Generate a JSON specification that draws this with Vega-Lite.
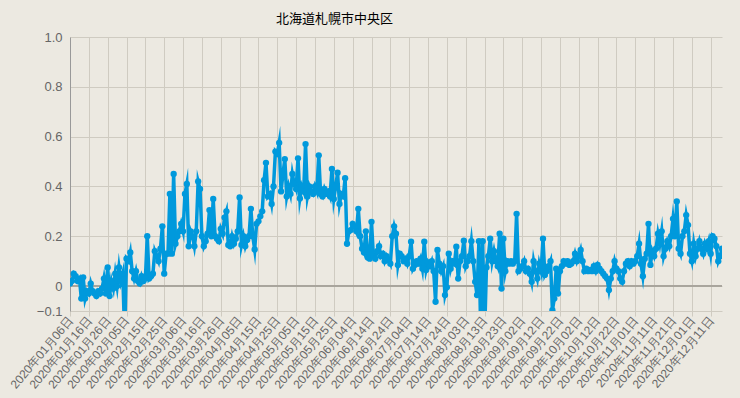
{
  "$schema": "https://vega.github.io/schema/vega-lite/v6.json",
  "width": 652,
  "height": 274,
  "autosize": {"type": "none"},
  "padding": {"left": 70, "top": 37, "right": 18, "bottom": 87},
  "background": "#ece9e1",
  "title": {"text": "北海道札幌市中央区", "anchor": "start", "dx": 268, "offset": 5, "fontSize": 13, "fontWeight": "normal", "color": "#000000", "font": "Noto Sans CJK JP"},
  "config": {
    "view": {"stroke": null},
    "axis": {"labelFont": "Liberation Sans", "labelColor": "#666666", "labelFontSize": 12, "gridColor": "#cfcbc1", "gridOpacity": 1, "domainColor": "#999999", "tickColor": "#cfcbc1"}
  },
  "data": {"values": [
    {"date":"2020-01-06","v":0.01},{"date":"2020-01-07","v":0.02},{"date":"2020-01-08","v":0.05},{"date":"2020-01-09","v":0.04},{"date":"2020-01-10","v":0.02},
    {"date":"2020-01-11","v":0.03},{"date":"2020-01-12","v":-0.05},{"date":"2020-01-13","v":0.035},{"date":"2020-01-14","v":-0.05},{"date":"2020-01-15","v":-0.02},
    {"date":"2020-01-16","v":-0.03},{"date":"2020-01-17","v":0.01},{"date":"2020-01-18","v":-0.02},{"date":"2020-01-19","v":-0.03},{"date":"2020-01-20","v":-0.04},
    {"date":"2020-01-21","v":-0.02},{"date":"2020-01-22","v":-0.03},{"date":"2020-01-23","v":-0.01},{"date":"2020-01-24","v":0.03},{"date":"2020-01-25","v":-0.03},
    {"date":"2020-01-26","v":0.075},{"date":"2020-01-27","v":-0.04},{"date":"2020-01-28","v":0.02},{"date":"2020-01-29","v":-0.01},{"date":"2020-01-30","v":0.05},
    {"date":"2020-01-31","v":0.0},
    {"date":"2020-02-01","v":0.075},{"date":"2020-02-02","v":0.02},{"date":"2020-02-03","v":0.05},{"date":"2020-02-04","v":-0.2},{"date":"2020-02-05","v":0.11},
    {"date":"2020-02-06","v":0.1},{"date":"2020-02-07","v":0.135},{"date":"2020-02-08","v":0.06},{"date":"2020-02-09","v":0.03},{"date":"2020-02-10","v":0.06},
    {"date":"2020-02-11","v":0.02},{"date":"2020-02-12","v":0.01},{"date":"2020-02-13","v":0.04},{"date":"2020-02-14","v":0.02},{"date":"2020-02-15","v":0.03},
    {"date":"2020-02-16","v":0.2},{"date":"2020-02-17","v":0.03},{"date":"2020-02-18","v":0.04},{"date":"2020-02-19","v":0.05},{"date":"2020-02-20","v":0.14},
    {"date":"2020-02-21","v":0.12},{"date":"2020-02-22","v":0.1},{"date":"2020-02-23","v":0.15},{"date":"2020-02-24","v":0.24},{"date":"2020-02-25","v":0.05},
    {"date":"2020-02-26","v":0.13},{"date":"2020-02-27","v":0.13},{"date":"2020-02-28","v":0.37},{"date":"2020-02-29","v":0.13},
    {"date":"2020-03-01","v":0.45},{"date":"2020-03-02","v":0.17},{"date":"2020-03-03","v":0.2},{"date":"2020-03-04","v":0.22},{"date":"2020-03-05","v":0.25},
    {"date":"2020-03-06","v":0.22},{"date":"2020-03-07","v":0.37},{"date":"2020-03-08","v":0.41},{"date":"2020-03-09","v":0.16},{"date":"2020-03-10","v":0.22},
    {"date":"2020-03-11","v":0.2},{"date":"2020-03-12","v":0.16},{"date":"2020-03-13","v":0.22},{"date":"2020-03-14","v":0.42},{"date":"2020-03-15","v":0.39},
    {"date":"2020-03-16","v":0.2},{"date":"2020-03-17","v":0.16},{"date":"2020-03-18","v":0.18},{"date":"2020-03-19","v":0.21},{"date":"2020-03-20","v":0.305},
    {"date":"2020-03-21","v":0.2},{"date":"2020-03-22","v":0.35},{"date":"2020-03-23","v":0.2},{"date":"2020-03-24","v":0.19},{"date":"2020-03-25","v":0.18},
    {"date":"2020-03-26","v":0.23},{"date":"2020-03-27","v":0.21},{"date":"2020-03-28","v":0.275},{"date":"2020-03-29","v":0.3},{"date":"2020-03-30","v":0.165},
    {"date":"2020-03-31","v":0.16},
    {"date":"2020-04-01","v":0.2},{"date":"2020-04-02","v":0.17},{"date":"2020-04-03","v":0.19},{"date":"2020-04-04","v":0.22},{"date":"2020-04-05","v":0.356},
    {"date":"2020-04-06","v":0.165},{"date":"2020-04-07","v":0.2},{"date":"2020-04-08","v":0.16},{"date":"2020-04-09","v":0.185},{"date":"2020-04-10","v":0.2},
    {"date":"2020-04-11","v":0.31},{"date":"2020-04-12","v":0.2},{"date":"2020-04-13","v":0.147},{"date":"2020-04-14","v":0.25},{"date":"2020-04-15","v":0.26},
    {"date":"2020-04-16","v":0.28},{"date":"2020-04-17","v":0.3},{"date":"2020-04-18","v":0.425},{"date":"2020-04-19","v":0.495},{"date":"2020-04-20","v":0.36},
    {"date":"2020-04-21","v":0.37},{"date":"2020-04-22","v":0.33},{"date":"2020-04-23","v":0.4},{"date":"2020-04-24","v":0.54},{"date":"2020-04-25","v":0.53},
    {"date":"2020-04-26","v":0.575},{"date":"2020-04-27","v":0.38},{"date":"2020-04-28","v":0.45},{"date":"2020-04-29","v":0.51},{"date":"2020-04-30","v":0.36},
    {"date":"2020-05-01","v":0.4},{"date":"2020-05-02","v":0.37},{"date":"2020-05-03","v":0.45},{"date":"2020-05-04","v":0.41},{"date":"2020-05-05","v":0.39},
    {"date":"2020-05-06","v":0.513},{"date":"2020-05-07","v":0.352},{"date":"2020-05-08","v":0.4},{"date":"2020-05-09","v":0.38},{"date":"2020-05-10","v":0.57},
    {"date":"2020-05-11","v":0.36},{"date":"2020-05-12","v":0.4},{"date":"2020-05-13","v":0.38},{"date":"2020-05-14","v":0.37},{"date":"2020-05-15","v":0.4},
    {"date":"2020-05-16","v":0.38},{"date":"2020-05-17","v":0.525},{"date":"2020-05-18","v":0.37},{"date":"2020-05-19","v":0.36},{"date":"2020-05-20","v":0.39},
    {"date":"2020-05-21","v":0.37},{"date":"2020-05-22","v":0.38},{"date":"2020-05-23","v":0.36},{"date":"2020-05-24","v":0.47},{"date":"2020-05-25","v":0.35},
    {"date":"2020-05-26","v":0.4},{"date":"2020-05-27","v":0.455},{"date":"2020-05-28","v":0.33},{"date":"2020-05-29","v":0.37},{"date":"2020-05-30","v":0.36},
    {"date":"2020-05-31","v":0.433},
    {"date":"2020-06-01","v":0.17},{"date":"2020-06-02","v":0.22},{"date":"2020-06-03","v":0.225},{"date":"2020-06-04","v":0.25},{"date":"2020-06-05","v":0.24},
    {"date":"2020-06-06","v":0.22},{"date":"2020-06-07","v":0.31},{"date":"2020-06-08","v":0.2},{"date":"2020-06-09","v":0.15},{"date":"2020-06-10","v":0.135},
    {"date":"2020-06-11","v":0.22},{"date":"2020-06-12","v":0.115},{"date":"2020-06-13","v":0.11},{"date":"2020-06-14","v":0.258},{"date":"2020-06-15","v":0.12},
    {"date":"2020-06-16","v":0.11},{"date":"2020-06-17","v":0.14},{"date":"2020-06-18","v":0.16},{"date":"2020-06-19","v":0.12},{"date":"2020-06-20","v":0.13},
    {"date":"2020-06-21","v":0.1},{"date":"2020-06-22","v":0.12},{"date":"2020-06-23","v":0.105},{"date":"2020-06-24","v":0.09},{"date":"2020-06-25","v":0.2},
    {"date":"2020-06-26","v":0.24},{"date":"2020-06-27","v":0.21},{"date":"2020-06-28","v":0.085},{"date":"2020-06-29","v":0.13},{"date":"2020-06-30","v":0.12},
    {"date":"2020-07-01","v":0.1},{"date":"2020-07-02","v":0.11},{"date":"2020-07-03","v":0.09},{"date":"2020-07-04","v":0.12},{"date":"2020-07-05","v":0.178},
    {"date":"2020-07-06","v":0.07},{"date":"2020-07-07","v":0.085},{"date":"2020-07-08","v":0.1},{"date":"2020-07-09","v":0.09},{"date":"2020-07-10","v":0.11},
    {"date":"2020-07-11","v":0.07},{"date":"2020-07-12","v":0.178},{"date":"2020-07-13","v":0.065},{"date":"2020-07-14","v":0.095},{"date":"2020-07-15","v":0.08},
    {"date":"2020-07-16","v":0.1},{"date":"2020-07-17","v":0.06},{"date":"2020-07-18","v":-0.063},{"date":"2020-07-19","v":0.145},{"date":"2020-07-20","v":0.09},
    {"date":"2020-07-21","v":0.06},{"date":"2020-07-22","v":0.08},{"date":"2020-07-23","v":-0.036},{"date":"2020-07-24","v":-0.005},{"date":"2020-07-25","v":0.13},
    {"date":"2020-07-26","v":0.07},{"date":"2020-07-27","v":0.1},{"date":"2020-07-28","v":0.09},{"date":"2020-07-29","v":0.158},{"date":"2020-07-30","v":0.03},
    {"date":"2020-07-31","v":0.1},
    {"date":"2020-08-01","v":0.12},{"date":"2020-08-02","v":0.182},{"date":"2020-08-03","v":0.08},{"date":"2020-08-04","v":0.1},{"date":"2020-08-05","v":0.12},
    {"date":"2020-08-06","v":0.18},{"date":"2020-08-07","v":0.1},{"date":"2020-08-08","v":0.017},{"date":"2020-08-09","v":-0.036},{"date":"2020-08-10","v":0.18},
    {"date":"2020-08-11","v":-0.2},{"date":"2020-08-12","v":0.18},{"date":"2020-08-13","v":-0.2},{"date":"2020-08-14","v":0.075},{"date":"2020-08-15","v":0.12},
    {"date":"2020-08-16","v":0.19},{"date":"2020-08-17","v":0.1},{"date":"2020-08-18","v":0.14},{"date":"2020-08-19","v":0.1},{"date":"2020-08-20","v":0.08},
    {"date":"2020-08-21","v":0.21},{"date":"2020-08-22","v":-0.01},{"date":"2020-08-23","v":0.19},{"date":"2020-08-24","v":0.06},{"date":"2020-08-25","v":0.1},
    {"date":"2020-08-26","v":0.09},{"date":"2020-08-27","v":0.1},{"date":"2020-08-28","v":0.09},{"date":"2020-08-29","v":0.1},{"date":"2020-08-30","v":0.29},
    {"date":"2020-08-31","v":0.06},
    {"date":"2020-09-01","v":0.07},{"date":"2020-09-02","v":0.08},{"date":"2020-09-03","v":0.1},{"date":"2020-09-04","v":0.06},{"date":"2020-09-05","v":0.07},
    {"date":"2020-09-06","v":0.05},{"date":"2020-09-07","v":0.017},{"date":"2020-09-08","v":0.1},{"date":"2020-09-09","v":0.06},{"date":"2020-09-10","v":0.03},
    {"date":"2020-09-11","v":0.09},{"date":"2020-09-12","v":0.06},{"date":"2020-09-13","v":0.19},{"date":"2020-09-14","v":0.045},{"date":"2020-09-15","v":0.06},
    {"date":"2020-09-16","v":0.08},{"date":"2020-09-17","v":0.1},{"date":"2020-09-18","v":-0.097},{"date":"2020-09-19","v":-0.05},{"date":"2020-09-20","v":0.07},
    {"date":"2020-09-21","v":-0.03},{"date":"2020-09-22","v":0.06},{"date":"2020-09-23","v":0.08},{"date":"2020-09-24","v":0.1},{"date":"2020-09-25","v":0.09},
    {"date":"2020-09-26","v":0.1},{"date":"2020-09-27","v":0.085},{"date":"2020-09-28","v":0.09},{"date":"2020-09-29","v":0.1},{"date":"2020-09-30","v":0.13},
    {"date":"2020-10-01","v":0.1},{"date":"2020-10-02","v":0.12},{"date":"2020-10-03","v":0.145},{"date":"2020-10-04","v":0.1},{"date":"2020-10-05","v":0.06},
    {"date":"2020-10-06","v":0.07},{"date":"2020-10-07","v":0.06},{"date":"2020-10-08","v":0.065},{"date":"2020-10-09","v":0.06},{"date":"2020-10-10","v":0.08},
    {"date":"2020-10-11","v":0.06},{"date":"2020-10-12","v":0.085},{"date":"2020-10-13","v":0.07},{"date":"2020-10-14","v":0.06},{"date":"2020-10-15","v":0.05},
    {"date":"2020-10-16","v":0.04},{"date":"2020-10-17","v":0.03},{"date":"2020-10-18","v":-0.016},{"date":"2020-10-19","v":0.03},{"date":"2020-10-20","v":0.06},
    {"date":"2020-10-21","v":0.1},{"date":"2020-10-22","v":0.07},{"date":"2020-10-23","v":0.06},{"date":"2020-10-24","v":0.03},{"date":"2020-10-25","v":0.017},
    {"date":"2020-10-26","v":0.06},{"date":"2020-10-27","v":0.09},{"date":"2020-10-28","v":0.1},{"date":"2020-10-29","v":0.08},{"date":"2020-10-30","v":0.1},
    {"date":"2020-10-31","v":0.09},
    {"date":"2020-11-01","v":0.1},{"date":"2020-11-02","v":0.12},{"date":"2020-11-03","v":0.17},{"date":"2020-11-04","v":0.09},{"date":"2020-11-05","v":0.04},
    {"date":"2020-11-06","v":0.11},{"date":"2020-11-07","v":0.13},{"date":"2020-11-08","v":0.25},{"date":"2020-11-09","v":0.085},{"date":"2020-11-10","v":0.14},
    {"date":"2020-11-11","v":0.12},{"date":"2020-11-12","v":0.15},{"date":"2020-11-13","v":0.21},{"date":"2020-11-14","v":0.17},{"date":"2020-11-15","v":0.22},
    {"date":"2020-11-16","v":0.12},{"date":"2020-11-17","v":0.15},{"date":"2020-11-18","v":0.18},{"date":"2020-11-19","v":0.16},{"date":"2020-11-20","v":0.2},
    {"date":"2020-11-21","v":0.27},{"date":"2020-11-22","v":0.2},{"date":"2020-11-23","v":0.34},{"date":"2020-11-24","v":0.15},{"date":"2020-11-25","v":0.13},
    {"date":"2020-11-26","v":0.2},{"date":"2020-11-27","v":0.22},{"date":"2020-11-28","v":0.285},{"date":"2020-11-29","v":0.245},{"date":"2020-11-30","v":0.13},
    {"date":"2020-12-01","v":0.1},{"date":"2020-12-02","v":0.17},{"date":"2020-12-03","v":0.12},{"date":"2020-12-04","v":0.15},{"date":"2020-12-05","v":0.18},
    {"date":"2020-12-06","v":0.15},{"date":"2020-12-07","v":0.13},{"date":"2020-12-08","v":0.17},{"date":"2020-12-09","v":0.15},{"date":"2020-12-10","v":0.18},
    {"date":"2020-12-11","v":0.13},{"date":"2020-12-12","v":0.2},{"date":"2020-12-13","v":0.19},{"date":"2020-12-14","v":0.16},{"date":"2020-12-15","v":0.1},
    {"date":"2020-12-16","v":0.12},{"date":"2020-12-17","v":0.15}
  ]},
  "encoding": {
    "x": {
      "field": "date", "type": "temporal", "title": null,
      "scale": {"type": "utc", "nice": false},
      "axis": {
        "values": [
          {"year":2020,"month":1,"date":6,"utc":true},{"year":2020,"month":1,"date":16,"utc":true},{"year":2020,"month":1,"date":26,"utc":true},
          {"year":2020,"month":2,"date":5,"utc":true},{"year":2020,"month":2,"date":15,"utc":true},{"year":2020,"month":2,"date":25,"utc":true},
          {"year":2020,"month":3,"date":6,"utc":true},{"year":2020,"month":3,"date":16,"utc":true},{"year":2020,"month":3,"date":26,"utc":true},
          {"year":2020,"month":4,"date":5,"utc":true},{"year":2020,"month":4,"date":15,"utc":true},{"year":2020,"month":4,"date":25,"utc":true},
          {"year":2020,"month":5,"date":5,"utc":true},{"year":2020,"month":5,"date":15,"utc":true},{"year":2020,"month":5,"date":25,"utc":true},
          {"year":2020,"month":6,"date":4,"utc":true},{"year":2020,"month":6,"date":14,"utc":true},{"year":2020,"month":6,"date":24,"utc":true},
          {"year":2020,"month":7,"date":4,"utc":true},{"year":2020,"month":7,"date":14,"utc":true},{"year":2020,"month":7,"date":24,"utc":true},
          {"year":2020,"month":8,"date":3,"utc":true},{"year":2020,"month":8,"date":13,"utc":true},{"year":2020,"month":8,"date":23,"utc":true},
          {"year":2020,"month":9,"date":2,"utc":true},{"year":2020,"month":9,"date":12,"utc":true},{"year":2020,"month":9,"date":22,"utc":true},
          {"year":2020,"month":10,"date":2,"utc":true},{"year":2020,"month":10,"date":12,"utc":true},{"year":2020,"month":10,"date":22,"utc":true},
          {"year":2020,"month":11,"date":1,"utc":true},{"year":2020,"month":11,"date":11,"utc":true},{"year":2020,"month":11,"date":21,"utc":true},
          {"year":2020,"month":12,"date":1,"utc":true},{"year":2020,"month":12,"date":11,"utc":true}
        ],
        "labelExpr": "utcFormat(datum.value, '%Y年%m月%d日')",
        "labelAngle": -50,
        "labelFont": "Liberation Sans",
        "labelFontSize": 12,
        "labelPadding": 2,
        "tickSize": 5,
        "domain": false,
        "grid": true,
        "labelOverlap": false
      }
    },
    "y": {
      "field": "v", "type": "quantitative", "title": null,
      "scale": {"domain": [-0.1, 1.0], "nice": false, "zero": false},
      "axis": {
        "values": [-0.1, 0, 0.2, 0.4, 0.6, 0.8, 1.0],
        "labelExpr": "datum.value == 0 ? '0' : format(datum.value, '.1f')",
        "ticks": false,
        "labelPadding": 8,
        "labelFontSize": 13,
        "grid": true,
        "domain": true
      }
    }
  },
  "layer": [
    {"mark": {"type": "rule", "color": "#a9a59d", "strokeWidth": 1}, "encoding": {"y": {"datum": 0}, "x": null}},
    {"mark": {"type": "line", "color": "#0099dc", "strokeWidth": 3.5, "strokeJoin": "miter", "strokeMiterLimit": 10, "clip": true}},
    {"mark": {"type": "point", "filled": true, "color": "#0099dc", "size": 40, "opacity": 1, "clip": true}}
  ]
}
